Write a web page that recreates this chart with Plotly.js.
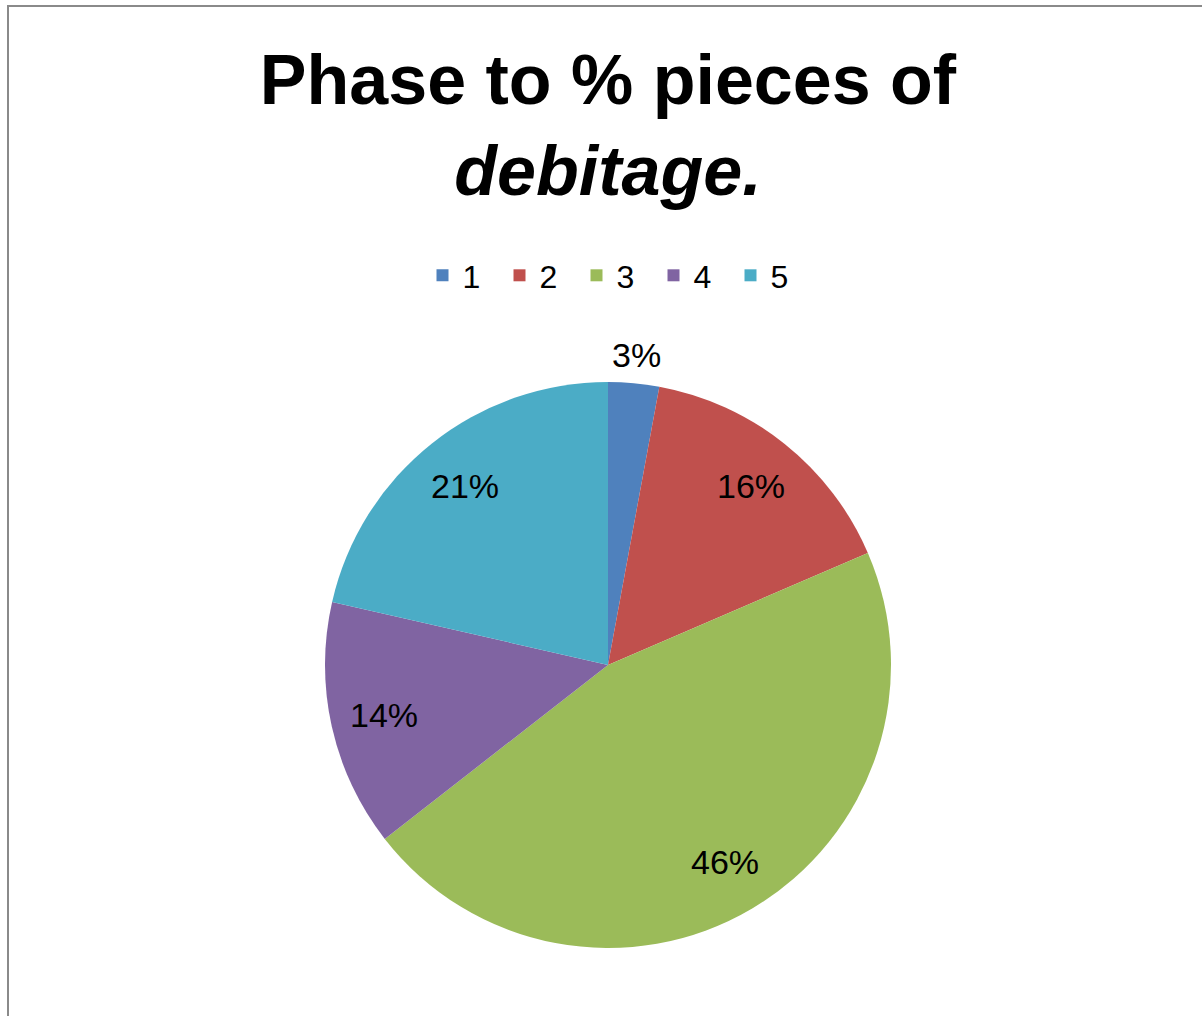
<!DOCTYPE html>
<html>
<head>
<meta charset="utf-8">
<script src="https://cdn.plot.ly/plotly-3.0.1.min.js"></script>
<style>
  html, body { margin: 0; padding: 0; background: #ffffff; overflow: hidden; }
  #chart { width: 1202px; height: 1016px; }
</style>
</head>
<body>
<div id="chart"></div>
<script>
const phases = ["1", "2", "3", "4", "5"];
const shares = [2.9, 15.6, 45.9, 14.1, 21.4];
const colors = ["#4F81BD", "#C0504D", "#9BBB59", "#8064A2", "#4BACC6"];
const labelOutside = [true, false, false, false, false];

const W = 1202, H = 1016;
const cx = 608, cy = 665, R = 283;
const FONT = "Liberation Sans, Arial, sans-serif";

const trace = {
  type: "pie",
  labels: phases,
  values: shares,
  sort: false,
  direction: "clockwise",
  rotation: 0,
  marker: { colors: colors, line: { width: 0 } },
  textinfo: "none",
  hoverinfo: "label+percent",
  showlegend: true,
  domain: {
    x: [(cx - R) / W, (cx + R) / W],
    y: [(H - cy - R) / H, (H - cy + R) / H]
  }
};

// data labels placed along each slice's bisector (Excel-style best fit)
const total = shares.reduce((a, b) => a + b, 0);
let cum = 0;
const annotations = shares.map((v, i) => {
  const mid = (cum + v / 2) / total * 2 * Math.PI;
  cum += v;
  const rr = labelOutside[i] ? 1.10 * R : 0.81 * R;
  const px = cx + rr * Math.sin(mid);
  const py = cy - rr * Math.cos(mid);
  return {
    xref: "paper", yref: "paper",
    x: px / W, y: 1 - py / H,
    xanchor: "center", yanchor: "middle",
    showarrow: false,
    text: Math.round(v / total * 100) + "%",
    font: { family: FONT, size: 34, color: "#000000" }
  };
});

const layout = {
  width: W,
  height: H,
  margin: { l: 0, r: 0, t: 0, b: 0 },
  paper_bgcolor: "#ffffff",
  title: {
    text: "<b>Phase to % pieces of</b><br><b><i>debitage.</i></b>",
    font: { family: FONT, size: 70, color: "#000000" },
    x: 608 / W,
    xanchor: "center",
    y: 1 - 104 / H,
    yanchor: "top",
    yref: "paper"
  },
  legend: {
    orientation: "h",
    x: 615 / W,
    xanchor: "center",
    y: 1 - 248 / H,
    yanchor: "top",
    font: { family: FONT, size: 32, color: "#000000" },
    traceorder: "normal",
    itemclick: false,
    entrywidth: 32
  },
  annotations: annotations,
  shapes: [
    { type: "line", xref: "paper", yref: "paper", x0: 8 / W, x1: 8 / W, y0: 0, y1: 1 - 5 / H,
      line: { color: "#8a8a8a", width: 2 } },
    { type: "line", xref: "paper", yref: "paper", x0: 8 / W, x1: 1, y0: 1 - 6 / H, y1: 1 - 6 / H,
      line: { color: "#8a8a8a", width: 2 } }
  ]
};

Plotly.newPlot("chart", [trace], layout, { displayModeBar: false, staticPlot: true });
</script>
</body>
</html>
